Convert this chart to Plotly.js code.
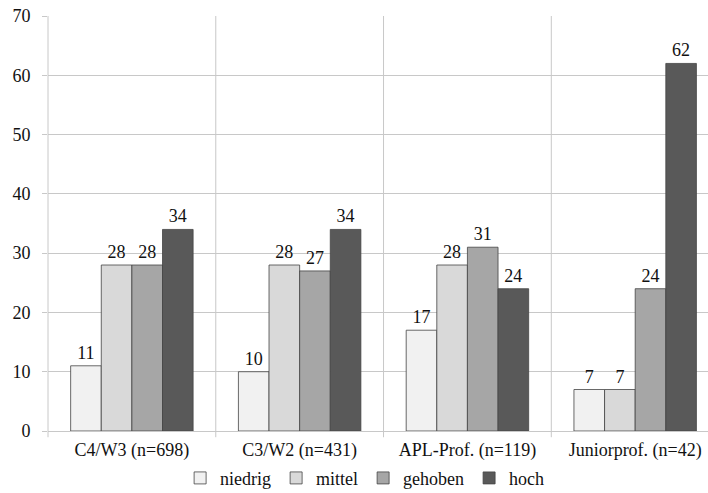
<!DOCTYPE html>
<html><head><meta charset="utf-8">
<script src="https://cdn.plot.ly/plotly-3.0.1.min.js"></script>
<style>body{margin:0;background:#fff}#chart{width:708px;height:493px}</style>
</head><body><div id="chart"></div>
<script>
const categories = ["C4/W3 (n=698)", "C3/W2 (n=431)", "APL-Prof. (n=119)", "Juniorprof. (n=42)"];
const seriesNames = ["niedrig", "mittel", "gehoben", "hoch"];
const niedrig = [11, 10, 17, 7];
const mittel = [28, 28, 28, 7];
const gehoben = [28, 27, 31, 24];
const hoch = [34, 34, 24, 62];
const yTicks = [0, 10, 20, 30, 40, 50, 60, 70];

const colors = ["#f1f1f1", "#d9d9d9", "#a6a6a6", "#595959"];
const values = [niedrig, mittel, gehoben, hoch];
const font = "'Liberation Serif', 'Times New Roman', serif";

const traces = values.map((v, i) => ({
  type: "bar", name: seriesNames[i], x: categories, y: v,
  text: v.map(String), textposition: "outside", cliponaxis: false,
  textfont: {family: font, size: 18, color: "#111"},
  marker: {color: colors[i], line: {color: "#444", width: 0.8}}
}));

const shapes = [0.5, 1.5, 2.5].map(x => ({
  type: "line", xref: "x", yref: "paper", x0: x, x1: x, y0: -0.015, y1: 1,
  line: {color: "#c8c8c8", width: 1}, layer: "below"
}));
shapes.push({type: "line", xref: "paper", yref: "paper", x0: 0, x1: 0, y0: -0.015, y1: 1,
  line: {color: "#c8c8c8", width: 1}, layer: "below"});

Plotly.newPlot("chart", traces, {
  width: 708, height: 493,
  margin: {l: 48, r: 0, t: 16, b: 62, autoexpand: false},
  paper_bgcolor: "#fff", plot_bgcolor: "#fff",
  font: {family: font, size: 18, color: "#111"},
  barmode: "group", bargap: 0.27, bargroupgap: 0,
  showlegend: true,
  legend: {orientation: "h", x: 0.515, xref: "container", xanchor: "center",
    y: 0.03, yref: "container", yanchor: "middle",
    font: {family: font, size: 18, color: "#111"}, itemwidth: 30, tracegroupgap: 0},
  xaxis: {type: "category", range: [-0.5, 3.434], showgrid: false, zeroline: false,
    showline: false, ticks: "", ticklabelstandoff: 6, tickfont: {family: font, size: 18}},
  yaxis: {range: [0, 70], tickvals: yTicks, showgrid: true, gridcolor: "#c8c8c8", gridwidth: 1,
    zeroline: true, zerolinecolor: "#c8c8c8", showline: false,
    ticks: "outside", ticklen: 5, tickcolor: "#c8c8c8", ticklabelstandoff: 8,
    tickfont: {family: font, size: 18}},
  shapes: shapes
}, {staticPlot: true});
</script></body></html>
